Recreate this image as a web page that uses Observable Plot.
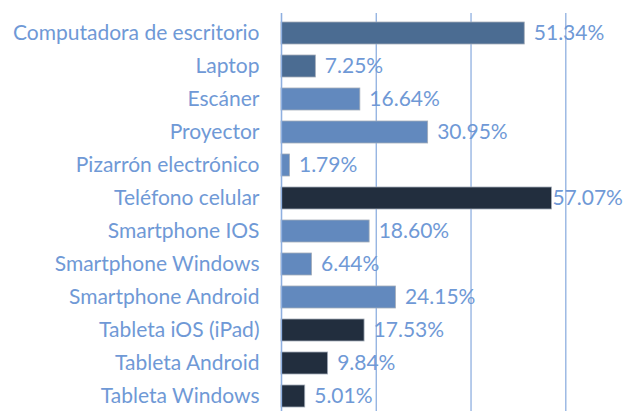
<!DOCTYPE html>
<html><head><meta charset="utf-8">
<script src="https://cdn.jsdelivr.net/npm/d3@7"></script>
<script src="https://cdn.jsdelivr.net/npm/@observablehq/plot@0.6"></script>
<style>body{margin:0;background:#fff}</style>
</head><body><div id="chart"></div>
<script>
const categorias = ["Computadora de escritorio","Laptop","Escáner","Proyector","Pizarrón electrónico","Teléfono celular","Smartphone IOS","Smartphone Windows","Smartphone Android","Tableta iOS (iPad)","Tableta Android","Tableta Windows"];
const valores = [51.34, 7.25, 16.64, 30.95, 1.79, 57.07, 18.60, 6.44, 24.15, 17.53, 9.84, 5.01];
const grupos = ["computadora","computadora","periferico","periferico","periferico","celular","smartphone","smartphone","smartphone","tableta","tableta","tableta"];
const gridTicks = [0, 20, 40, 60];

const data = categorias.map((c, i) => ({cat: c, v: valores[i], g: grupos[i]}));
const font = "Lato, 'Open Sans', sans-serif";
const txt = "#6f99d6";
const fs = 21;

const chart = Plot.plot({
  width: 624, height: 411,
  marginLeft: 281, marginRight: 58.7, marginTop: 13, marginBottom: 0,
  style: {fontFamily: font, fontSize: fs + "px", color: txt, background: "#fff"},
  x: {domain: [0, 60], axis: null},
  y: {domain: categorias, range: [7.4, 422.2], padding: 0.345, label: null},
  color: {domain: ["computadora","periferico","celular","smartphone","tableta"], range: ["#4b6c92","#6289be","#222e3e","#6289be","#222e3e"]},
  marks: [
    Plot.ruleX(gridTicks, {stroke: "#8fb0e0", strokeWidth: 1.3}),
    Plot.barX(data, {x: "v", y: "cat", fill: "g", stroke: "#a3acb8", strokeWidth: 0.8}),
    Plot.ruleX([0], {stroke: "#8fb0e0", strokeWidth: 1.3}),
    Plot.text(data.filter(d => d.v < 55), {x: "v", y: "cat", text: d => d.v.toFixed(2) + "%", textAnchor: "start", dx: 9, fill: txt, fontSize: fs}),
    Plot.text(data.filter(d => d.v >= 55), {x: "v", y: "cat", text: d => d.v.toFixed(2) + "%", textAnchor: "start", dx: 0.5, fill: txt, fontSize: fs}),
    Plot.axisY({tickSize: 0, tickPadding: 22, fontSize: fs, fill: txt, label: null})
  ]
});
document.getElementById("chart").append(chart);
</script>
</body></html>
